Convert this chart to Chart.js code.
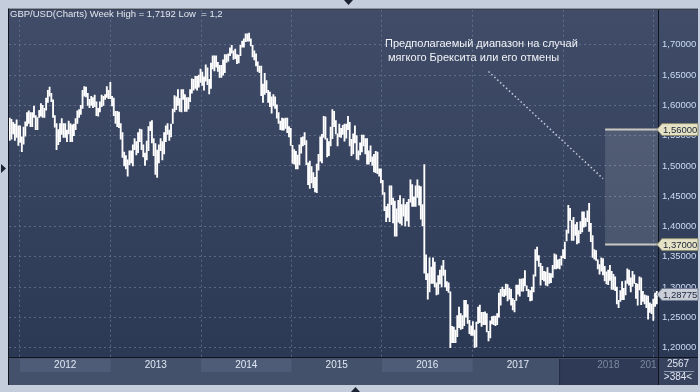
<!DOCTYPE html>
<html>
<head>
<meta charset="utf-8">
<script src="https://cdn.jsdelivr.net/npm/chart.js@4/dist/chart.umd.min.js"></script>
<style>
    html, body { margin: 0; padding: 0; background: #c3cddb; }
    #wrap { width: 700px; height: 392px; }
</style>
</head>
<body>
<div id="wrap"><canvas id="chart" width="700" height="392"></canvas></div>
<script>
// weekly bars [low, high], first bar is the week of 2011-11-21
var firstWeekUtc = Date.UTC(2011, 10, 21);

var weeks2011 = [
    [1.5420,1.5790],[1.5440,1.5770],[1.5530,1.5720],[1.5420,1.5690],[1.5470,1.5760],[1.5340,1.5660]
];
var weeks2012 = [
    [1.5390,1.5660],[1.5235,1.5480],[1.5360,1.5640],[1.5490,1.5730],[1.5660,1.5880],
    [1.5700,1.5910],[1.5650,1.5880],[1.5650,1.5880],[1.5800,1.5990],
    [1.5600,1.5830],[1.5600,1.5800],[1.5800,1.5920],[1.5820,1.6030],
    [1.5800,1.6000],[1.5800,1.5950],[1.5920,1.6120],[1.6050,1.6250],[1.6150,1.6300],
    [1.6060,1.6200],[1.5800,1.6090],[1.5640,1.5830],[1.5270,1.5700],
    [1.5350,1.5600],[1.5400,1.5700],[1.5520,1.5780],[1.5470,1.5700],
    [1.5470,1.5700],[1.5400,1.5590],[1.5530,1.5740],[1.5400,1.5700],[1.5400,1.5680],
    [1.5500,1.5690],[1.5600,1.5780],[1.5700,1.5910],[1.5800,1.5930],
    [1.5850,1.6000],[1.5950,1.6250],[1.6150,1.6310],[1.6140,1.6300],
    [1.6000,1.6200],[1.5960,1.6100],[1.6000,1.6150],[1.5960,1.6130],[1.5980,1.6170],
    [1.5830,1.6060],[1.5820,1.5950],[1.5890,1.6060],[1.5980,1.6170],
    [1.6000,1.6150],[1.6100,1.6180],[1.6130,1.6310],[1.6110,1.6250]
];
var weeks2013 = [
    [1.6110,1.6380],[1.5990,1.6150],[1.5830,1.6120],[1.5700,1.5900],[1.5650,1.5900],
    [1.5630,1.5890],[1.5440,1.5700],[1.5140,1.5550],[1.5000,1.5230],
    [1.4950,1.5170],[1.4830,1.5100],[1.5020,1.5250],[1.5050,1.5250],
    [1.5000,1.5350],[1.5270,1.5450],[1.5180,1.5400],[1.5220,1.5550],[1.5400,1.5610],
    [1.5270,1.5600],[1.5150,1.5350],[1.5010,1.5210],[1.5100,1.5410],
    [1.5250,1.5650],[1.5580,1.5730],[1.5380,1.5750],[1.5170,1.5450],
    [1.4860,1.5370],[1.4810,1.5260],[1.5050,1.5350],[1.5250,1.5450],[1.5100,1.5400],
    [1.5200,1.5550],[1.5400,1.5660],[1.5520,1.5700],[1.5420,1.5590],
    [1.5480,1.5690],[1.5700,1.5940],[1.5890,1.6160],[1.5930,1.6140],[1.6000,1.6260],
    [1.5900,1.6110],[1.5890,1.6260],[1.6100,1.6260],[1.5900,1.6180],
    [1.5900,1.6130],[1.5940,1.6130],[1.6060,1.6260],[1.6200,1.6440],
    [1.6250,1.6430],[1.6280,1.6480],[1.6250,1.6480],[1.6300,1.6500]
];
var weeks2014 = [
    [1.6380,1.6600],[1.6330,1.6550],[1.6250,1.6470],[1.6400,1.6670],[1.6340,1.6620],
    [1.6190,1.6430],[1.6280,1.6700],[1.6600,1.6820],[1.6570,1.6820],
    [1.6630,1.6820],[1.6560,1.6710],[1.6460,1.6660],[1.6460,1.6660],[1.6500,1.6750],
    [1.6540,1.6840],[1.6710,1.6840],[1.6730,1.6850],[1.6820,1.6950],
    [1.6860,1.6990],[1.6760,1.6900],[1.6770,1.6930],[1.6690,1.6840],
    [1.6700,1.6830],[1.6820,1.6990],[1.6960,1.7060],[1.6960,1.7100],[1.7050,1.7180],
    [1.7060,1.7180],[1.7060,1.7192],[1.6980,1.7100],[1.6800,1.6990],
    [1.6750,1.6900],[1.6650,1.6850],[1.6560,1.6720],[1.6540,1.6650],
    [1.6160,1.6650],[1.6050,1.6350],[1.6180,1.6530],[1.6210,1.6410],[1.6050,1.6250],
    [1.5980,1.6220],[1.5870,1.6140],[1.5990,1.6180],[1.5950,1.6140],
    [1.5790,1.6010],[1.5700,1.5880],[1.5600,1.5740],[1.5590,1.5790],
    [1.5590,1.5780],[1.5620,1.5790],[1.5550,1.5790],[1.5480,1.5650]
];
var weeks2015 = [
    [1.5340,1.5620],[1.5040,1.5340],[1.5030,1.5270],[1.4950,1.5240],[1.4950,1.5180],
    [1.5020,1.5350],[1.5210,1.5470],[1.5330,1.5480],[1.5350,1.5550],
    [1.5020,1.5420],[1.4690,1.5050],[1.4630,1.5080],[1.4720,1.4990],[1.4640,1.4890],
    [1.4570,1.4810],[1.4560,1.5030],[1.4930,1.5190],[1.5080,1.5480],
    [1.5050,1.5520],[1.5470,1.5820],[1.5440,1.5810],[1.5150,1.5450],
    [1.5170,1.5400],[1.5330,1.5640],[1.5450,1.5930],[1.5650,1.5900],[1.5530,1.5750],
    [1.5330,1.5530],[1.5480,1.5690],[1.5470,1.5620],[1.5520,1.5670],
    [1.5410,1.5690],[1.5460,1.5690],[1.5600,1.5820],[1.5330,1.5720],[1.5170,1.5440],
    [1.5200,1.5530],[1.5380,1.5660],[1.5110,1.5500],[1.5100,1.5250],
    [1.5180,1.5380],[1.5230,1.5510],[1.5330,1.5510],[1.5200,1.5450],
    [1.5030,1.5450],[1.5030,1.5250],[1.5070,1.5330],[1.5010,1.5150],[1.4900,1.5190],
    [1.4890,1.5240],[1.4870,1.5230],[1.4830,1.4950]
];
var weeks2016 = [
    [1.4720,1.4950],[1.4530,1.4760],[1.4260,1.4560],[1.4080,1.4330],[1.4150,1.4370],
    [1.4080,1.4670],[1.4360,1.4670],[1.4060,1.4470],[1.3840,1.4420],[1.3840,1.4290],
    [1.4070,1.4430],[1.4050,1.4510],[1.4020,1.4360],[1.4170,1.4460],
    [1.4010,1.4360],[1.4090,1.4400],[1.4000,1.4450],[1.4400,1.4770],
    [1.4330,1.4690],[1.4330,1.4490],[1.4330,1.4670],[1.4480,1.4770],[1.4350,1.4670],
    [1.4120,1.4660],[1.4010,1.4360],[1.3230,1.5020],[1.3120,1.3530],
    [1.2800,1.3220],[1.2920,1.3480],[1.3060,1.3330],[1.3060,1.3480],
    [1.3000,1.3410],[1.2870,1.3070],[1.2880,1.3190],[1.3050,1.3280],[1.3000,1.3350],
    [1.3190,1.3440],[1.3000,1.3280],[1.2940,1.3090],[1.2910,1.3070],
    [1.2000,1.2920],[1.2080,1.2350],[1.2080,1.2340],[1.2080,1.2290],[1.2180,1.2530],
    [1.2330,1.2670],[1.2300,1.2560],[1.2310,1.2530],[1.2360,1.2780],
    [1.2500,1.2780],[1.2400,1.2710],[1.2230,1.2450]
];
var weeks2017 = [
    [1.2200,1.2360],[1.2200,1.2430],[1.2000,1.2290],[1.2010,1.2420],[1.2400,1.2670],[1.2410,1.2700],
    [1.2350,1.2580],[1.2380,1.2580],[1.2380,1.2590],[1.2260,1.2560],
    [1.2110,1.2270],[1.2160,1.2440],[1.2390,1.2510],[1.2380,1.2520],
    [1.2360,1.2520],[1.2380,1.2560],[1.2500,1.2900],[1.2700,1.2960],
    [1.2850,1.3000],[1.2840,1.2960],[1.2860,1.3050],[1.2770,1.3040],[1.2800,1.2980],
    [1.2700,1.2960],[1.2620,1.2810],[1.2590,1.2780],[1.2780,1.3030],
    [1.2880,1.3030],[1.2850,1.3130],[1.2930,1.3130],[1.2930,1.3140],[1.3020,1.3270],
    [1.2940,1.3020],[1.2840,1.2960],[1.2770,1.2940],[1.2780,1.3000],
    [1.2920,1.3200],[1.3180,1.3620],[1.3440,1.3660],[1.3340,1.3520],
    [1.3030,1.3390],[1.3120,1.3340],[1.3100,1.3260],[1.3030,1.3250],[1.3020,1.3320],
    [1.3060,1.3230],[1.3070,1.3220],[1.3160,1.3360],[1.3300,1.3550],
    [1.3300,1.3530],[1.3310,1.3450],[1.3300,1.3460]
];
var weeks2018 = [
    [1.3360,1.3510],[1.3480,1.3620],[1.3470,1.3740],[1.3760,1.3940],[1.3890,1.4350],[1.4100,1.4300],
    [1.3770,1.4100],[1.3770,1.4150],[1.3850,1.4030],[1.3710,1.4070],
    [1.3730,1.3930],[1.3880,1.4080],[1.3910,1.4240],[1.3990,1.4240],
    [1.4000,1.4140],[1.4080,1.4260],[1.3920,1.4380],[1.3750,1.4050],[1.3490,1.3850],
    [1.3460,1.3620],[1.3440,1.3600],[1.3300,1.3450],[1.3210,1.3370],
    [1.3260,1.3480],[1.3200,1.3470],[1.3100,1.3340],[1.3050,1.3250],
    [1.3040,1.3280],[1.3110,1.3360],[1.2960,1.3260],[1.2960,1.3210],[1.2940,1.3170],
    [1.2720,1.3000],[1.2660,1.2780],[1.2760,1.2940],[1.2790,1.3090],
    [1.2790,1.2980],[1.2870,1.3100],[1.3060,1.3300],[1.3030,1.3280],
    [1.2920,1.3150],[1.3010,1.3260],[1.3060,1.3200],[1.2810,1.3060],[1.2700,1.3050],
    [1.2950,1.3170],[1.2710,1.3150],[1.2760,1.2930],[1.2720,1.2870],
    [1.2660,1.2860],[1.2470,1.2850],[1.2580,1.2740]
];
var weeks2019 = [
    [1.2560,1.2720],[1.2450,1.2800],[1.2680,1.2900],[1.2720,1.2930]
];

var yearLabels = [2012, 2013, 2014, 2015, 2016, 2017, 2018, 2019];
var dimFromYear = 2018;
var yTicks = [1.20, 1.25, 1.30, 1.35, 1.40, 1.45, 1.50, 1.55, 1.60, 1.65, 1.70];

var titleText = "GBP/USD(Charts) Week High = 1,7192 Low  = 1,2";
var noteLines = ["Предполагаемый диапазон на случай", " мягкого Брексита или его отмены"];
var noteArrowFrom = [276, 1.656];
var noteArrowTo = [342, 1.479];
var rangeHigh = 1.56;
var rangeLow = 1.37;
var rangeFromWeek = 343.2;
var lastPrice = 1.28775;
var barTotal = "2567";
var barsShown = ">384<";

var FONT = "'Liberation Sans', Arial, sans-serif";

var allWeeks = [].concat(weeks2011, weeks2012, weeks2013, weeks2014, weeks2015,
    weeks2016, weeks2017, weeks2018, weeks2019);
var barData = allWeeks.map(function (w, i) {
    return { x: i, y: [w[0], w[1]] };
});

function weekIndexOf(year) {
    return (Date.UTC(year, 0, 1) - firstWeekUtc) / (7 * 86400000);
}
function fmtPrice(v) {
    return v.toFixed(5).replace('.', ',');
}

function drawTag(ctx, x, y, text, fill, stroke) {
    ctx.beginPath();
    ctx.moveTo(x - 2, y);
    ctx.lineTo(x + 3, y - 6);
    ctx.lineTo(x + 39, y - 6);
    ctx.lineTo(x + 39, y + 6);
    ctx.lineTo(x + 3, y + 6);
    ctx.closePath();
    ctx.fillStyle = fill;
    ctx.fill();
    ctx.strokeStyle = stroke;
    ctx.lineWidth = 1;
    ctx.stroke();
    ctx.fillStyle = '#1b2536';
    ctx.textAlign = 'left';
    ctx.textBaseline = 'middle';
    ctx.font = "9.5px " + FONT;
    ctx.fillText(text, x + 4, y + 0.5);
}

var chartDecor = {
    id: 'chartDecor',
    beforeDraw: function (chart) {
        var ctx = chart.ctx, a = chart.chartArea, xs = chart.scales.x;
        ctx.save();
        ctx.fillStyle = '#c3cddb';
        ctx.fillRect(0, 0, chart.width, chart.height);

        var g = ctx.createLinearGradient(0, a.top, 0, a.bottom);
        g.addColorStop(0, '#404c68');
        g.addColorStop(1, '#2c3955');
        ctx.fillStyle = g;
        ctx.fillRect(a.left - 1, a.top, chart.width - 2 - (a.left - 1), a.bottom - a.top);

        // year strip under the plot
        ctx.fillStyle = '#44516b';
        ctx.fillRect(a.left - 1, a.bottom, a.right - a.left + 1, 28);
        ctx.fillStyle = '#37435e';
        ctx.fillRect(a.right, a.bottom, chart.width - 2 - a.right, 28);

        var starts = yearLabels.map(function (y) { return xs.getPixelForValue(weekIndexOf(y)); });
        for (var i = 0; i < yearLabels.length; i++) {
            var left = starts[i];
            var right = i < yearLabels.length - 1 ? starts[i + 1] : a.right;
            if (yearLabels[i] >= dimFromYear) {
                if (yearLabels[i] == dimFromYear) {
                    ctx.fillStyle = '#2f3b56';
                    ctx.fillRect(left - 4, a.bottom + 2, a.right - left + 4, 26);
                    ctx.fillStyle = '#232c42';
                    ctx.fillRect(left - 4, a.bottom + 2, 1, 26);
                }
                continue;
            }
            if (i % 2 == 0) {
                ctx.fillStyle = '#4f5c77';
                ctx.fillRect(left, a.bottom + 2, right - left, 13);
            }
        }
        ctx.restore();
    },
    afterDraw: function (chart) {
        var ctx = chart.ctx, a = chart.chartArea, xs = chart.scales.x, ys = chart.scales.y;
        ctx.save();

        // year labels
        ctx.save();
        ctx.beginPath();
        ctx.rect(a.left, a.bottom, a.right - a.left - 1, 28);
        ctx.clip();
        ctx.font = "10px " + FONT;
        ctx.textAlign = 'center';
        ctx.textBaseline = 'middle';
        var starts = yearLabels.map(function (y) { return xs.getPixelForValue(weekIndexOf(y)); });
        for (var i = 0; i < yearLabels.length; i++) {
            var left = starts[i];
            var right = i < yearLabels.length - 1 ? starts[i + 1] : left + (left - starts[i - 1]);
            var cx = Math.min((left + right) / 2, a.right - 7);
            ctx.fillStyle = yearLabels[i] >= dimFromYear ? '#7b889e' : '#dfe7f4';
            ctx.fillText(String(yearLabels[i]), cx, a.bottom + 8.5);
        }
        ctx.restore();

        // frame lines
        ctx.strokeStyle = '#0f141e';
        ctx.lineWidth = 1;
        ctx.beginPath();
        ctx.moveTo(a.left - 0.5, a.top - 1); ctx.lineTo(a.left - 0.5, a.bottom + 28);
        ctx.moveTo(a.left - 1, a.top - 0.5); ctx.lineTo(chart.width - 2, a.top - 0.5);
        ctx.moveTo(a.left - 1, a.bottom + 0.5); ctx.lineTo(chart.width - 2, a.bottom + 0.5);
        ctx.moveTo(a.right + 0.5, a.top); ctx.lineTo(a.right + 0.5, a.bottom + 28);
        ctx.stroke();

        // expected range box
        var rx = xs.getPixelForValue(rangeFromWeek);
        var ry1 = ys.getPixelForValue(rangeHigh);
        var ry2 = ys.getPixelForValue(rangeLow);
        ctx.fillStyle = 'rgba(255,255,255,0.12)';
        ctx.fillRect(rx, ry1, a.right - rx, ry2 - ry1);
        ctx.strokeStyle = '#c9c9c2';
        ctx.lineWidth = 2;
        ctx.beginPath();
        ctx.moveTo(rx, ry1); ctx.lineTo(a.right, ry1);
        ctx.moveTo(rx, ry2); ctx.lineTo(a.right, ry2);
        ctx.stroke();

        // dotted pointer
        ctx.strokeStyle = '#c5ccd8';
        ctx.lineWidth = 1.5;
        ctx.setLineDash([1.5, 2.5]);
        ctx.beginPath();
        ctx.moveTo(xs.getPixelForValue(noteArrowFrom[0]), ys.getPixelForValue(noteArrowFrom[1]));
        ctx.lineTo(xs.getPixelForValue(noteArrowTo[0]), ys.getPixelForValue(noteArrowTo[1]));
        ctx.stroke();
        ctx.setLineDash([]);

        // texts
        ctx.fillStyle = '#f2f4f8';
        ctx.textAlign = 'left';
        ctx.textBaseline = 'middle';
        ctx.font = "11px " + FONT;
        ctx.fillText(noteLines[0], 385, 44);
        ctx.fillText(noteLines[1], 385, 58);

        ctx.fillStyle = '#e2e6ee';
        ctx.font = "9.5px " + FONT;
        ctx.fillText(titleText, 10, 14);

        // price tags
        drawTag(ctx, a.right + 1, ry1, fmtPrice(rangeHigh), '#e5e2c6', '#8d8a6e');
        drawTag(ctx, a.right + 1, ry2, fmtPrice(rangeLow), '#e5e2c6', '#8d8a6e');
        drawTag(ctx, a.right + 1, ys.getPixelForValue(lastPrice), fmtPrice(lastPrice), '#c9ced8', '#6f7a90');

        // bar counter in the corner
        var cx = (a.right + chart.width - 2) / 2;
        ctx.font = "10px " + FONT;
        ctx.fillStyle = '#e0e6f0';
        ctx.textAlign = 'center';
        ctx.fillText(barTotal, cx, a.bottom + 7.5);
        ctx.fillText(barsShown, cx, a.bottom + 20.5);
        ctx.strokeStyle = '#8a96aa';
        ctx.lineWidth = 1;
        ctx.beginPath();
        ctx.moveTo(a.right + 6, a.bottom + 14.5); ctx.lineTo(chart.width - 6, a.bottom + 14.5);
        ctx.stroke();

        // little splitter arrows
        ctx.fillStyle = '#1b2232';
        ctx.beginPath();
        ctx.moveTo(344, 0); ctx.lineTo(353, 0); ctx.lineTo(348.5, 5); ctx.closePath();
        ctx.moveTo(351, 392); ctx.lineTo(360, 392); ctx.lineTo(355.5, 387); ctx.closePath();
        ctx.moveTo(1, 164); ctx.lineTo(1, 173); ctx.lineTo(6, 168.5); ctx.closePath();
        ctx.fill();

        ctx.restore();
    }
};

var gridColor = 'rgba(125,140,170,0.55)';

new Chart(document.getElementById('chart'), {
    type: 'bar',
    data: {
        datasets: [{
            data: barData,
            backgroundColor: '#ffffff',
            borderWidth: 0,
            barThickness: 1.2,
            grouped: false
        }]
    },
    options: {
        responsive: false,
        animation: false,
        events: [],
        layout: { padding: { left: 9, top: 8, right: 0, bottom: 35 } },
        scales: {
            x: {
                type: 'linear',
                min: -0.4,
                max: 373.7,
                offset: false,
                grid: { color: gridColor, lineWidth: 1, drawTicks: false, offset: false },
                border: { display: false, dash: [2, 3] },
                ticks: { display: false },
                afterBuildTicks: function (scale) {
                    scale.ticks = yearLabels.map(function (y) { return { value: weekIndexOf(y) }; });
                },
                afterFit: function (scale) { scale.height = 0; }
            },
            y: {
                position: 'right',
                min: 1.1844,
                max: 1.758,
                grid: { color: gridColor, lineWidth: 1, drawTicks: false },
                border: { display: false, dash: [2, 3] },
                ticks: {
                    color: '#cddcf2',
                    font: { family: FONT, size: 9.5 },
                    padding: 4,
                    autoSkip: false,
                    callback: function (v) { return fmtPrice(v); }
                },
                afterBuildTicks: function (scale) {
                    scale.ticks = yTicks.map(function (v) { return { value: v }; });
                },
                afterFit: function (scale) { scale.width = 42; }
            }
        },
        plugins: {
            legend: { display: false },
            tooltip: { enabled: false }
        }
    },
    plugins: [chartDecor]
});
</script>
</body>
</html>
